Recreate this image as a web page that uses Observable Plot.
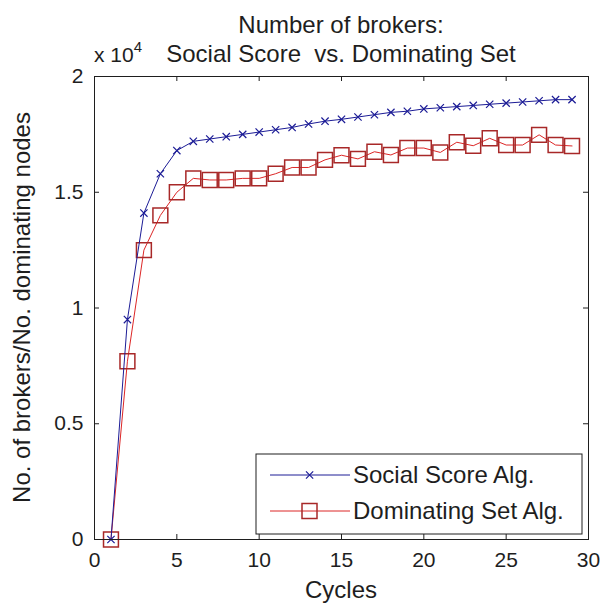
<!DOCTYPE html>
<html>
<head>
<meta charset="utf-8">
<script src="https://cdn.jsdelivr.net/npm/d3@7"></script>
<script src="https://cdn.jsdelivr.net/npm/@observablehq/plot@0.6"></script>
<style>
  html, body { margin: 0; padding: 0; background: #fff; }
  #chart svg { display: block; }
</style>
</head>
<body>
<div id="chart"></div>
<script>
// Cycle index (x) and the two series, in units of 10^4
const cycles = [1, 2, 3, 4, 5, 6, 7, 8, 9, 10, 11, 12, 13, 14, 15, 16, 17, 18, 19, 20, 21, 22, 23, 24, 25, 26, 27, 28, 29];
const socialScore = [0, 0.95, 1.41, 1.58, 1.68, 1.72, 1.73, 1.74, 1.75, 1.76, 1.77, 1.78, 1.795, 1.807, 1.815, 1.825, 1.835, 1.845, 1.85, 1.86, 1.865, 1.87, 1.875, 1.88, 1.885, 1.89, 1.895, 1.90, 1.90];
const dominatingSet = [0, 0.77, 1.25, 1.40, 1.50, 1.56, 1.553, 1.553, 1.56, 1.56, 1.58, 1.607, 1.607, 1.64, 1.66, 1.644, 1.675, 1.661, 1.691, 1.691, 1.672, 1.716, 1.701, 1.733, 1.704, 1.704, 1.748, 1.704, 1.70];
const seriesNames = ["Social Score Alg.", "Dominating Set Alg."];
const xTicks = [0, 5, 10, 15, 20, 25, 30];
const yTicks = [0, 0.5, 1, 1.5, 2];

const W = 610, H = 607;
const mL = 94, mR = 22, mT = 76, mB = 68;
const plotW = W - mL - mR, plotH = H - mT - mB;
const font = "'Liberation Sans', Arial, Helvetica, sans-serif";
const ink = "#1e1e1e";
const blue = "#1c1c96";
const red = "#dc2626";
const squareEdge = "#a82828";

const social = cycles.map((c, i) => ({cycle: c, value: socialScore[i]}));
const dominating = cycles.map((c, i) => ({cycle: c, value: dominatingSet[i]}));

const chart = Plot.plot({
  width: W,
  height: H,
  marginLeft: mL,
  marginRight: mR,
  marginTop: mT,
  marginBottom: mB,
  style: {fontFamily: font, fontSize: "21px", color: ink, background: "#fff"},
  x: {domain: [0, 30], label: null},
  y: {domain: [0, 2], label: null},
  marks: [
    // inward tick marks on all four sides
    Plot.tickX(xTicks, {x: d => d, insetTop: plotH - 5, stroke: ink}),
    Plot.tickX(xTicks, {x: d => d, insetBottom: plotH - 5, stroke: ink}),
    Plot.tickY(yTicks, {y: d => d, insetRight: plotW - 5, stroke: ink}),
    Plot.tickY(yTicks, {y: d => d, insetLeft: plotW - 5, stroke: ink}),
    Plot.axisX(xTicks, {tickSize: 0, tickPadding: 13, fontSize: 21, tickFormat: d => String(d), fill: ink}),
    Plot.axisY(yTicks, {tickSize: 0, tickPadding: 11, fontSize: 21, tickFormat: d => String(d), fill: ink}),
    // dominating set series: line + open squares
    Plot.line(dominating, {x: "cycle", y: "value", stroke: red, strokeWidth: 1}),
    Plot.dot(dominating, {x: "cycle", y: "value", symbol: "square", r: 8.4, stroke: squareEdge, strokeWidth: 1.5, fill: "none"}),
    // social score series: line + x markers
    Plot.line(social, {x: "cycle", y: "value", stroke: blue, strokeWidth: 1}),
    Plot.dot(social, {x: "cycle", y: "value", symbol: "times", r: 3.4, stroke: blue, strokeWidth: 1.2}),
    Plot.frame({stroke: ink, strokeWidth: 1})
  ]
});

document.getElementById("chart").appendChild(chart);

// Titles, exponent and axis labels
const svg = d3.select(chart);
const cx = mL + plotW / 2;
const txt = (x, y, s, opts = {}) => svg.append("text")
  .attr("x", x).attr("y", y)
  .attr("text-anchor", opts.anchor || "middle")
  .attr("font-family", font)
  .attr("font-size", opts.size || 24)
  .attr("fill", ink)
  .text(s);

txt(cx, 33, "Number of brokers:");
txt(cx, 62, "Social Score  vs. Dominating Set");
const expo = txt(mL, 62, "x 10", {anchor: "start", size: 21});
expo.append("tspan").attr("dy", -10).attr("font-size", 15).text("4");
txt(cx, H - 9, "Cycles");
svg.append("text")
  .attr("transform", `translate(30,${mT + plotH / 2}) rotate(-90)`)
  .attr("text-anchor", "middle")
  .attr("font-family", font)
  .attr("font-size", 24)
  .attr("fill", ink)
  .text("No. of brokers/No. dominating nodes");

// Legend box in the lower-right corner of the axes
const lgW = 326, lgH = 80;
const lgX = mL + plotW - 6 - lgW, lgY = mT + plotH - 5 - lgH;
const lg = svg.append("g").attr("transform", `translate(${lgX},${lgY})`);
lg.append("rect").attr("width", lgW).attr("height", lgH).attr("fill", "#fff").attr("stroke", ink);
const rows = [
  {name: seriesNames[0], color: blue, y: 21},
  {name: seriesNames[1], color: red, y: 57}
];
rows.forEach((r, i) => {
  lg.append("line").attr("x1", 14).attr("x2", 94).attr("y1", r.y).attr("y2", r.y)
    .attr("stroke", r.color).attr("stroke-width", 1);
  if (i === 0) {
    lg.append("path").attr("d", `M50,${r.y - 3.6}L57.2,${r.y + 3.6}M50,${r.y + 3.6}L57.2,${r.y - 3.6}`)
      .attr("stroke", r.color).attr("stroke-width", 1.2);
  } else {
    lg.append("rect").attr("x", 46).attr("y", r.y - 7.5).attr("width", 15).attr("height", 15)
      .attr("fill", "none").attr("stroke", squareEdge).attr("stroke-width", 1.5);
  }
  lg.append("text").attr("x", 97).attr("y", r.y + 8)
    .attr("text-anchor", "start")
    .attr("font-family", font).attr("font-size", 24).attr("fill", ink)
    .text(r.name);
});
</script>
</body>
</html>
